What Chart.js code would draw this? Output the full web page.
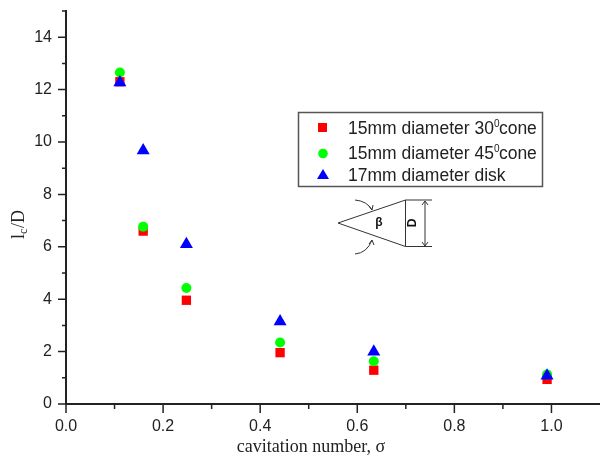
<!DOCTYPE html>
<html>
<head>
<meta charset="utf-8">
<script src="https://cdn.jsdelivr.net/npm/chart.js@4"></script>
<style>
  body { margin: 0; background: #fff; }
</style>
</head>
<body>
<canvas id="cavityChart" width="600" height="459"></canvas>
<script>
const sigma = [0.111, 0.159, 0.248, 0.441, 0.634, 0.991];
const cone30 = [12.3, 6.6, 3.96, 1.96, 1.29, 0.94];
const cone45 = [12.65, 6.77, 4.43, 2.35, 1.63, 1.13];
const disk17 = [12.27, 9.68, 6.1, 3.15, 1.99, 1.08];
const xTickLabels = ['0.0', '', '0.2', '', '0.4', '', '0.6', '', '0.8', '', '1.0', ''];
const yTickLabels = ['0', '', '2', '', '4', '', '6', '', '8', '', '10', '', '12', '', '14', ''];

const ink = '#222';
const points = vals => vals.map((y, i) => ({ x: sigma[i], y: y }));

// outward ticks, long on labelled values and short in between
const axisTicks = {
    id: 'axisTicks',
    afterDraw(chart) {
        const c = chart.ctx, xs = chart.scales.x, ys = chart.scales.y;
        c.save();
        c.strokeStyle = ink;
        c.lineWidth = 1.5;
        c.beginPath();
        xTickLabels.forEach((t, i) => {
            if (i >= xs.ticks.length || i === 11) return;
            const px = xs.getPixelForTick(i);
            c.moveTo(px, ys.bottom);
            c.lineTo(px, ys.bottom + (t ? 9 : 5));
        });
        yTickLabels.forEach((t, i) => {
            const py = ys.getPixelForTick(i);
            c.moveTo(xs.left, py);
            c.lineTo(xs.left - (t ? 8 : 4), py);
        });
        c.stroke();
        c.restore();
    }
};

// axis titles: the x one sits left of the axis centre, the y one has a subscript
const axisTitles = {
    id: 'axisTitles',
    afterDraw(chart) {
        const c = chart.ctx;
        c.save();
        c.fillStyle = ink;
        c.textBaseline = 'alphabetic';
        c.textAlign = 'center';
        c.font = '18px "Liberation Serif"';
        c.fillText('cavitation number, σ', 311, 452);
        c.textAlign = 'left';
        c.translate(24, 222);
        c.rotate(-Math.PI / 2);
        c.fillText('l', -17, 0);
        c.font = '12px "Liberation Serif"';
        c.fillText('c', -12, 3);
        c.font = '18px "Liberation Serif"';
        c.fillText('/D', -6, 0);
        c.restore();
    }
};

const legendBox = {
    id: 'legendBox',
    afterDraw(chart) {
        const c = chart.ctx;
        c.save();
        c.strokeStyle = '#555';
        c.lineWidth = 1.5;
        c.strokeRect(298.5, 112.5, 244, 74);

        c.fillStyle = '#f00';
        c.fillRect(318, 123, 9, 9);
        c.fillStyle = '#0f0';
        c.beginPath();
        c.arc(323, 153.5, 4.8, 0, Math.PI * 2);
        c.fill();
        c.fillStyle = '#00f';
        c.beginPath();
        c.moveTo(323, 169);
        c.lineTo(329, 179);
        c.lineTo(317, 179);
        c.closePath();
        c.fill();

        c.fillStyle = ink;
        c.textBaseline = 'alphabetic';
        const rows = [['15mm diameter 30', 134], ['15mm diameter 45', 159]];
        rows.forEach(r => {
            c.font = '17.5px "Liberation Sans"';
            c.fillText(r[0], 348, r[1]);
            const w = c.measureText(r[0]).width;
            c.font = '10px "Liberation Sans"';
            c.fillText('0', 348 + w, r[1] - 7);
            c.font = '17.5px "Liberation Sans"';
            c.fillText('cone', 348 + w + 5, r[1]);
        });
        c.fillText('17mm diameter disk', 348, 181);

        // cone sketch
        c.strokeStyle = '#333';
        c.lineWidth = 1;
        c.beginPath();
        c.moveTo(405.5, 200);
        c.lineTo(338, 223);
        c.lineTo(405.5, 246.5);
        c.closePath();
        c.moveTo(405.5, 200);
        c.lineTo(432, 200);
        c.moveTo(405.5, 246.5);
        c.lineTo(432, 246.5);
        c.moveTo(425, 201);
        c.lineTo(425, 246);
        c.moveTo(422, 205);
        c.lineTo(425, 201);
        c.lineTo(428, 205);
        c.moveTo(422, 242);
        c.lineTo(425, 246);
        c.lineTo(428, 242);
        c.moveTo(355, 200);
        c.quadraticCurveTo(367, 201, 372, 210);
        c.moveTo(369, 206);
        c.lineTo(372, 210);
        c.lineTo(373, 205);
        c.moveTo(355, 254);
        c.quadraticCurveTo(367, 253, 372, 240);
        c.moveTo(369, 244);
        c.lineTo(372, 240);
        c.lineTo(374, 245);
        c.stroke();

        c.fillStyle = '#111';
        c.textAlign = 'center';
        c.textBaseline = 'middle';
        c.font = 'bold 12px "Liberation Sans"';
        c.fillText('β', 379, 223);
        c.translate(413, 223);
        c.rotate(-Math.PI / 2);
        c.fillText('D', 0, 0);
        c.restore();
    }
};

new Chart(document.getElementById('cavityChart').getContext('2d'), {
    type: 'scatter',
    data: {
        datasets: [
            { label: '15mm diameter 30 cone', data: points(cone30), pointStyle: 'rect', pointRadius: 6.6, backgroundColor: '#f00', borderWidth: 0, order: 3 },
            { label: '15mm diameter 45 cone', data: points(cone45), pointStyle: 'circle', pointRadius: 5, backgroundColor: '#0f0', borderWidth: 0, order: 2 },
            { label: '17mm diameter disk', data: points(disk17), pointStyle: 'triangle', pointRadius: 7.5, backgroundColor: '#00f', borderWidth: 0, order: 1 }
        ]
    },
    options: {
        responsive: false,
        animation: false,
        layout: { autoPadding: false, padding: { top: 11, left: 0, right: 0, bottom: 0 } },
        plugins: { legend: { display: false }, tooltip: { enabled: false } },
        scales: {
            x: {
                type: 'linear',
                min: 0,
                max: 1.1,
                afterFit(scale) { scale.height = 55; scale.paddingRight = 0; scale.paddingLeft = 0; },
                border: { color: ink, width: 2 },
                grid: { display: false },
                ticks: {
                    stepSize: 0.1,
                    autoSkip: false,
                    maxRotation: 0,
                    padding: 5,
                    color: ink,
                    font: { family: 'Liberation Sans', size: 16 },
                    callback: (v, i) => xTickLabels[i]
                }
            },
            y: {
                min: 0,
                max: 15,
                afterFit(scale) { scale.width = 66; scale.paddingTop = 0; scale.paddingBottom = 0; },
                border: { color: ink, width: 2 },
                grid: { display: false },
                ticks: {
                    stepSize: 1,
                    autoSkip: false,
                    padding: 6,
                    color: ink,
                    font: { family: 'Liberation Sans', size: 16 },
                    callback: (v, i) => yTickLabels[i]
                }
            }
        }
    },
    plugins: [axisTicks, axisTitles, legendBox]
});
</script>
</body>
</html>
